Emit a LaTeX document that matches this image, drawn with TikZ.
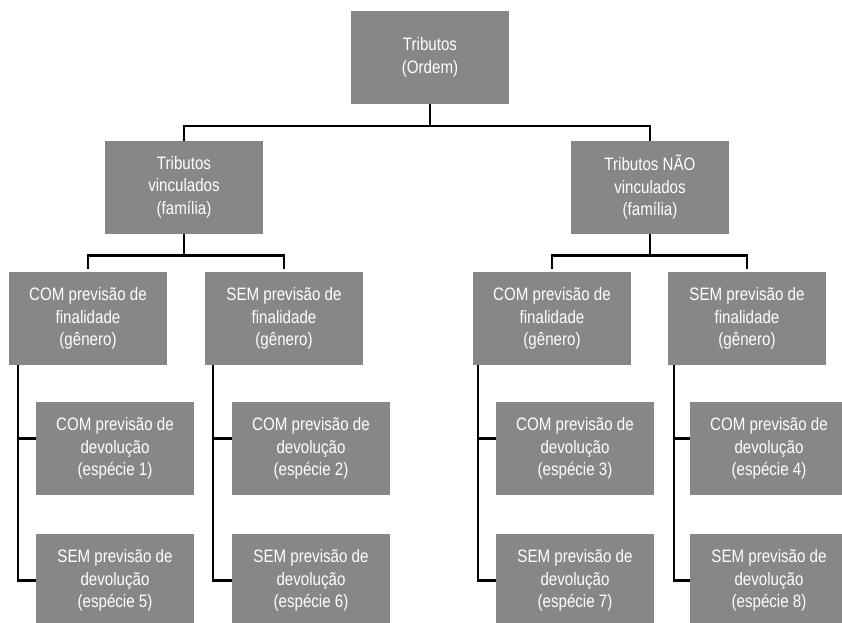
\documentclass[tikz,border=0pt]{standalone}
\usepackage{fontspec}
\setmainfont[FakeStretch=0.84]{Liberation Sans}
\usepackage{xcolor}
\usepackage{tikz}
\usetikzlibrary{positioning}
\definecolor{caixacinza}{HTML}{878787}

\begin{document}
\begin{tikzpicture}[x=1pt, y=1pt, node distance=0pt, outer sep=0pt,
    caixa/.style={fill=caixacinza, text=white, minimum width=158pt, minimum height=93pt,
      inner sep=0pt, align=center, font=\fontsize{18}{22.5}\selectfont},
    linha/.style={draw=black, line width=2.4pt}]
    \useasboundingbox (0,0) rectangle (842,-622);
    \clip (0,0) rectangle (842,-622);

    % Ordem
    \node[caixa] (tributos) at (430,-57.5) {Tributos\\(Ordem)};

    % Famílias
    \node[caixa] (vinc) at (184,-187) {Tributos\\vinculados\\(família)};
    \node[caixa] (naovinc) at (650,-187) {Tributos NÃO\\vinculados\\(família)};

    % Gêneros
    \node[caixa] (gen1) at (88,-318.5) {COM previsão de\\finalidade\\(gênero)};
    \node[caixa] (gen2) at (284,-318.5) {SEM previsão de\\finalidade\\(gênero)};
    \node[caixa] (gen3) at (552,-318.5) {COM previsão de\\finalidade\\(gênero)};
    \node[caixa] (gen4) at (747,-318.5) {SEM previsão de\\finalidade\\(gênero)};

    % Espécies
    \node[caixa, below=37pt of gen1, xshift=27pt] (esp1) {COM previsão de\\devolução\\(espécie 1)};
    \node[caixa, below=37pt of gen2, xshift=27pt] (esp2) {COM previsão de\\devolução\\(espécie 2)};
    \node[caixa, below=37pt of gen3, xshift=23pt] (esp3) {COM previsão de\\devolução\\(espécie 3)};
    \node[caixa, below=37pt of gen4, xshift=22pt] (esp4) {COM previsão de\\devolução\\(espécie 4)};
    \node[caixa, below=39pt of esp1] (esp5) {SEM previsão de\\devolução\\(espécie 5)};
    \node[caixa, below=39pt of esp2] (esp6) {SEM previsão de\\devolução\\(espécie 6)};
    \node[caixa, below=39pt of esp3] (esp7) {SEM previsão de\\devolução\\(espécie 7)};
    \node[caixa, below=39pt of esp4] (esp8) {SEM previsão de\\devolução\\(espécie 8)};

    % Ligações
    \draw[linha] (tributos.south) -- ++(0,-22) coordinate (barra0);
    \draw[linha] (barra0) -| (vinc.north);
    \draw[linha] (barra0) -| (naovinc.north);

    \draw[linha] (vinc.south) -- ++(0,-22) coordinate (barra1);
    \draw[linha] (barra1) -| ([yshift=3pt]gen1.north);
    \draw[linha] (barra1) -| ([yshift=3pt]gen2.north);
    \draw[linha] (naovinc.south) -- ++(0,-22) coordinate (barra2);
    \draw[linha] (barra2) -| ([yshift=3pt]gen3.north);
    \draw[linha] (barra2) -| ([yshift=3pt]gen4.north);

    \coordinate (eixo1) at ([xshift=-18pt]esp1.west);
    \coordinate (eixo2) at ([xshift=-19pt]esp2.west);
    \coordinate (eixo3) at ([xshift=-18pt]esp3.west);
    \coordinate (eixo4) at ([xshift=-16pt]esp4.west);
    \draw[linha] (eixo1 |- gen1.south) |- ([yshift=10pt]esp1.west);
    \draw[linha] (eixo1 |- gen1.south) |- (esp5.west);
    \draw[linha] (eixo2 |- gen2.south) |- ([yshift=10pt]esp2.west);
    \draw[linha] (eixo2 |- gen2.south) |- (esp6.west);
    \draw[linha] (eixo3 |- gen3.south) |- ([yshift=10pt]esp3.west);
    \draw[linha] (eixo3 |- gen3.south) |- (esp7.west);
    \draw[linha] (eixo4 |- gen4.south) |- ([yshift=10pt]esp4.west);
    \draw[linha] (eixo4 |- gen4.south) |- (esp8.west);
\end{tikzpicture}
\end{document}
